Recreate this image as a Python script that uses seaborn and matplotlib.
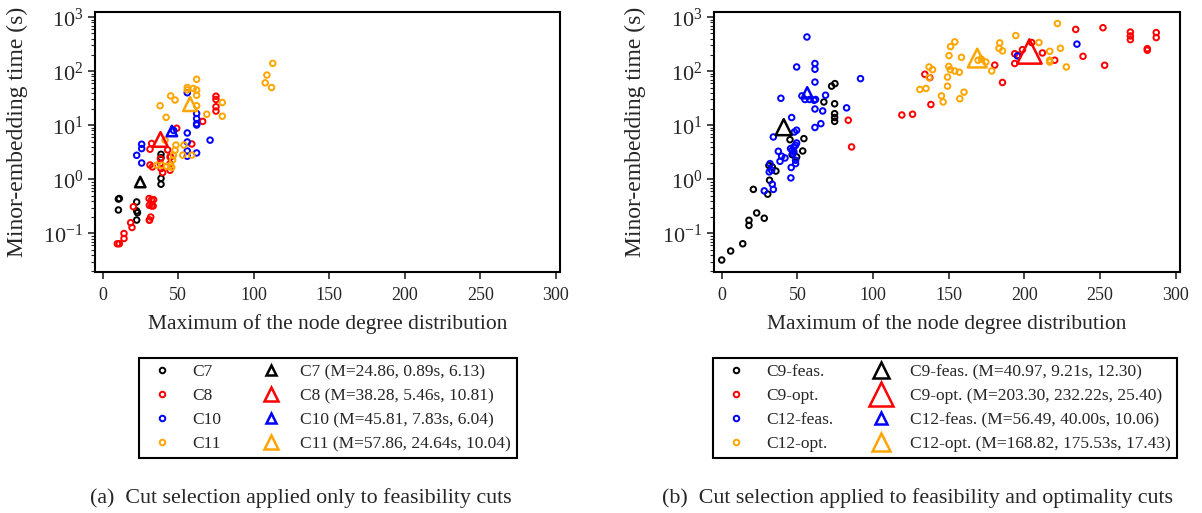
import numpy as np
import pandas as pd
import matplotlib
matplotlib.use("Agg")
import matplotlib.pyplot as plt
import seaborn as sns
from matplotlib.lines import Line2D

# ---------------- panel (a): cut selection on feasibility cuts only ----------------
c7_deg = [10.4, 11.0, 10.4, 22.5, 22.5, 22.5, 23.0, 38.6, 38.6, 38.6, 38.6]
c7_time = [0.43, 0.44, 0.27, 0.38, 0.26, 0.176, 0.24, 2.9, 2.5, 1.04, 0.81]

c8_deg = [9.7, 11.0, 14.1, 14.1, 18.5, 19.4, 20.3, 30.7, 32.4, 33.7, 30.9, 32.4, 33.4,
          30.9, 31.8, 31.0, 32.4, 31.3, 31.3, 32.9, 38.2, 38.2, 38.6, 39.7, 44.6, 44.6,
          44.6, 43.0, 45.0, 49.0, 59.0, 66.2, 75.0, 75.0, 75.0, 75.0]
c8_time = [0.064, 0.064, 0.099, 0.080, 0.157, 0.128, 0.31, 0.44, 0.42, 0.42, 0.33, 0.32, 0.32,
           0.175, 0.20, 0.176, 4.6, 3.6, 1.84, 1.69, 2.4, 1.95, 1.58, 1.33, 1.47, 1.95,
           2.6, 3.5, 2.6, 8.8, 4.5, 11.8, 34.5, 30.0, 22.0, 18.3]

c10_deg = [25.8, 25.8, 22.5, 25.8, 56.0, 56.0, 56.0, 56.0, 62.2, 71.1, 62.2, 62.2, 62.2,
           62.2, 56.0, 47.0]
c10_time = [4.45, 3.7, 2.78, 2.0, 7.2, 4.9, 3.34, 2.67, 3.07, 5.3, 16.5, 13.3, 10.7,
            10.1, 40.0, 8.0]

c11_deg = [112.6, 108.7, 107.6, 111.8, 62.2, 56.0, 56.0, 60.0, 62.2, 62.2, 45.0, 47.9, 38.0,
           42.0, 62.2, 68.9, 79.2, 79.2, 48.5, 47.9, 46.8, 46.3, 45.0, 45.7, 42.4, 39.0,
           35.8, 53.8, 53.0, 59.0, 41.3]
c11_time = [140, 85, 61, 50, 71, 50, 45, 48, 45, 36, 35, 29.3, 23,
            14, 23, 16, 26.4, 14.7, 4.3, 3.45, 2.8, 2.27, 1.82, 1.65, 1.74, 1.82,
            1.82, 4.3, 2.8, 2.8, 5.3]

groups_a = ["C7", "C8", "C10", "C11"]
mean_deg_a = [24.86, 38.28, 45.81, 57.86]
mean_time_a = [0.89, 5.46, 7.83, 24.64]
third_a = [6.13, 10.81, 6.04, 10.04]

# ---------------- panel (b): cut selection on feasibility and optimality cuts ----------------
c9f_deg = [0.0, 5.9, 13.9, 18.0, 18.0, 23.1, 28.1, 20.9, 30.4, 31.6, 31.2, 33.4, 35.8,
           49.5, 53.5, 54.3, 45.1, 67.5, 72.6, 74.8, 74.6, 74.6, 74.6, 74.6, 46.5]
c9f_time = [0.032, 0.047, 0.064, 0.174, 0.14, 0.238, 0.19, 0.65, 0.53, 0.96, 1.8, 1.69, 1.42,
            2.59, 3.34, 5.66, 5.4, 27, 53, 59, 25, 16.4, 13.9, 11.8, 2.86]

c9o_deg = [83.6, 85.8, 119.0, 126.1, 138.2, 134.2, 137.5, 180.4, 185.5, 193.6, 193.6, 195.8,
           198.7, 211.9, 204.8, 220.0, 233.9, 238.7, 251.9, 253.0, 270.0, 270.0, 270.0,
           281.2, 281.2, 287.1, 287.1]
c9o_time = [12.4, 3.97, 15.5, 16, 24.2, 88, 76, 130, 62, 211, 139, 198,
            251, 218, 340, 160, 595, 189, 640, 129, 532, 450, 385,
            262, 245, 520, 420]

c12f_deg = [56.3, 61.6, 61.6, 49.5, 61.6, 91.7, 39.1, 53.0, 55.0, 58.0, 61.0, 62.0, 68.6,
            82.5, 61.6, 66.7, 65.5, 61.6, 46.2, 34.1, 49.5, 48.0, 49.5, 37.4, 39.6, 41.8,
            38.5, 45.5, 46.6, 47.7, 48.8, 46.9, 47.7, 48.8, 48.8, 45.9, 45.7, 31.9, 31.4,
            33.0, 33.4, 34.1, 28.1, 195.4, 234.7]
c12f_time = [431, 139, 109, 120, 63, 73, 31.6, 35, 30, 30, 29, 30, 36,
             21, 20, 18.4, 10.7, 9.1, 13.9, 6.07, 8.1, 7.5, 4.7, 3.3, 2.67, 2.48,
             2.15, 3.7, 3.45, 3.97, 4.26, 2.99, 3.2, 2.25, 1.95, 1.65, 1.06, 1.95, 1.37,
             1.47, 0.81, 0.65, 0.61, 192, 318]

c12o_deg = [221.8, 194.3, 154.0, 151.2, 150.2, 158.4, 183.7, 183.2, 185.5, 209.6, 216.7,
            216.7, 216.7, 223.8, 227.7, 137.0, 139.3, 137.0, 150.0, 151.0, 154.0, 157.0,
            149.2, 149.2, 130.9, 135.0, 145.2, 146.3, 157.3, 160.1, 169.4, 171.6, 174.5, 178.4]
c12o_time = [765, 458, 350, 286, 195, 181, 335, 266, 238, 340, 234,
             160, 148, 266, 120, 120, 107, 76, 123, 107, 101, 96,
             78, 53, 46, 48, 35, 27, 31, 41, 160, 167, 148, 101]

groups_b = ["C9-feas.", "C9-opt.", "C12-feas.", "C12-opt."]
mean_deg_b = [40.97, 203.30, 56.49, 168.82]
mean_time_b = [9.21, 232.22, 40.00, 175.53]
third_b = [12.30, 25.40, 10.06, 17.43]

COLORS = ["black", "red", "blue", "orange"]
TRI_MS_A = [7.5, 10.5, 7.5, 10.0]
TRI_MS_B = [11.5, 17.5, 8.0, 13.5]

sns.set_style("ticks")
plt.rcParams["font.family"] = ["Liberation Serif", "DejaVu Serif"]
plt.rcParams["mathtext.default"] = "regular"


def build_df(groups, degs, times):
    parts = []
    for g, d, t in zip(groups, degs, times):
        parts.append(pd.DataFrame({"deg": d, "time": t, "group": g}))
    return pd.concat(parts, ignore_index=True)


def hollow(ax):
    coll = ax.collections[-1]
    coll.set_edgecolors(coll.get_facecolors())
    coll.set_facecolors("none")
    return coll


def panel(ax, groups, degs, times, mdeg, mtime, third, tri_ms, legend_box):
    pal = dict(zip(groups, COLORS))
    df = build_df(groups, degs, times)
    sns.scatterplot(data=df, x="deg", y="time", hue="group", palette=pal,
                    marker="o", s=16, linewidth=1.4, legend=False, ax=ax)
    hollow(ax)

    means = pd.DataFrame({"deg": mdeg, "time": mtime, "group": groups})
    sns.scatterplot(data=means, x="deg", y="time", hue="group", palette=pal,
                    marker="^", s=40, linewidth=1.8, legend=False, ax=ax, zorder=5)
    coll = hollow(ax)
    coll.set_sizes(np.array(tri_ms) ** 2)

    ax.set_yscale("log")
    ax.set_xlim(-5.1, 302.8)
    ax.set_ylim(0.0192, 1250)
    ax.set_xticks([0, 50, 100, 150, 200, 250, 300])
    ax.set_xlabel("Maximum of the node degree distribution", fontsize=15.5, labelpad=7)
    ax.set_ylabel("Minor-embedding time (s)", fontsize=17)
    ax.yaxis.set_label_coords(-0.145, 0.54)
    ax.tick_params(axis="x", labelsize=13, length=5, width=1.2, pad=6)
    ax.tick_params(axis="y", which="major", labelsize=16, length=5, width=1.2)
    ax.tick_params(axis="y", which="minor", length=3, width=0.8)
    for sp in ax.spines.values():
        sp.set_linewidth(1.5)
        sp.set_color("black")

    handles, labels = [], []
    for g, c in zip(groups, COLORS):
        handles.append(Line2D([], [], marker="o", ls="", mfc="none", mec=c, ms=4, mew=1.4))
        labels.append(g)
    for g, c, md, mt, th, ms in zip(groups, COLORS, mdeg, mtime, third, tri_ms):
        handles.append(Line2D([], [], marker="^", ls="", mfc="none", mec=c, ms=ms, mew=1.8))
        labels.append(f"{g} (M={md:.2f}, {mt:.2f}s, {th:.2f})")
    leg = ax.legend(handles, labels, ncol=2, loc="upper left", mode="expand",
                    bbox_to_anchor=legend_box, bbox_transform=ax.figure.transFigure,
                    fontsize=12.5, frameon=True, fancybox=False, framealpha=1,
                    handletextpad=0.7, labelspacing=0.45, borderpad=0.35,
                    borderaxespad=0.0)
    leg.get_frame().set_edgecolor("black")
    leg.get_frame().set_linewidth(1.5)


W, H = 1202, 513
fig = plt.figure(figsize=(W / 100, H / 100), dpi=100)
ax_a = fig.add_axes([95 / W, 1 - 272 / H, 465 / W, 260 / H])
ax_b = fig.add_axes([714 / W, 1 - 272 / H, 466 / W, 260 / H])

panel(ax_a, groups_a, [c7_deg, c8_deg, c10_deg, c11_deg],
      [c7_time, c8_time, c10_time, c11_time], mean_deg_a, mean_time_a, third_a,
      TRI_MS_A, (139 / W, 1 - 457 / H, 378 / W, 99 / H))
panel(ax_b, groups_b, [c9f_deg, c9o_deg, c12f_deg, c12o_deg],
      [c9f_time, c9o_time, c12f_time, c12o_time], mean_deg_b, mean_time_b, third_b,
      TRI_MS_B, (713 / W, 1 - 457 / H, 464 / W, 99 / H))

fig.text(301 / W, 1 - 498 / H, "(a)  Cut selection applied only to feasibility cuts",
         ha="center", va="center", fontsize=15.8)
fig.text(918 / W, 1 - 498 / H, "(b)  Cut selection applied to feasibility and optimality cuts",
         ha="center", va="center", fontsize=15.8)

fig.savefig("out.png", dpi=100)
